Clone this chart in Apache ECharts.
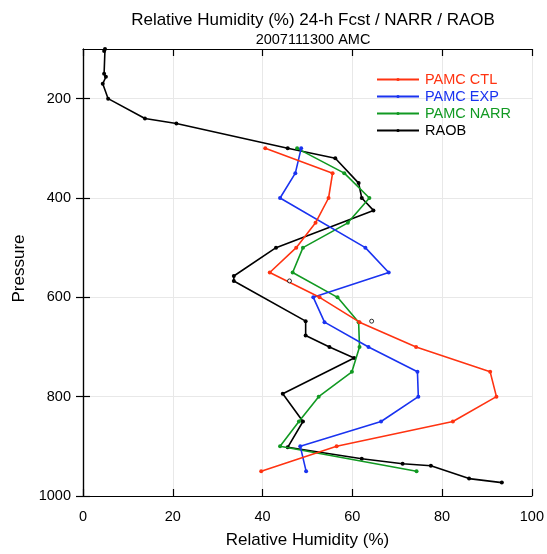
<!DOCTYPE html>
<html><head><meta charset="utf-8">
<script src="https://cdn.jsdelivr.net/npm/echarts@6/dist/echarts.min.js"></script>
<style>html,body{margin:0;padding:0;background:#fff}#c{width:547px;height:554px}</style>
</head><body><div id="c"></div>
<script>
// Data
const xTicks = [0, 20, 40, 60, 80, 100];
const yTicks = [200, 400, 600, 800, 1000];

const ctlP  = [300, 350, 400, 450, 500, 550, 600, 650, 700, 750, 800, 850, 900, 950];
const ctlRH = [40.6, 55.6, 54.7, 51.8, 47.5, 41.6, 52.7, 61.6, 74.2, 90.7, 92.1, 82.4, 56.5, 39.7];

const expP  = [300, 350, 400, 500, 550, 600, 650, 700, 750, 800, 850, 900, 950];
const expRH = [48.6, 47.3, 43.9, 62.9, 68.1, 51.3, 53.8, 63.6, 74.5, 74.7, 66.4, 48.4, 49.7];

const narrP  = [300, 350, 400, 450, 500, 550, 600, 650, 700, 750, 800, 850, 900, 950];
const narrRH = [47.7, 58.2, 63.8, 59.0, 49.0, 46.7, 56.7, 61.4, 61.6, 59.9, 52.5, 48.1, 43.9, 74.3];

const raobP  = [100, 104, 150, 156, 170, 200, 240, 250, 300, 320, 370, 400, 425, 500, 557, 567, 648, 677, 700, 722, 794, 850, 902, 925, 935, 939, 965, 973];
const raobRH = [4.9, 4.7, 4.7, 5.1, 4.4, 5.6, 13.8, 20.8, 45.6, 56.2, 61.4, 62.1, 64.7, 43.0, 33.6, 33.6, 49.6, 49.6, 54.9, 60.4, 44.5, 49.0, 45.6, 62.1, 71.2, 77.5, 86.0, 93.3];

const extraP  = [567, 648];
const extraRH = [46.0, 64.3];

const names = ['PAMC CTL', 'PAMC EXP', 'PAMC NARR', 'RAOB'];
const colors = ['#ff3311', '#1a33f0', '#119922', '#000000'];

function pairs(rh, p) { return rh.map((v, i) => [v, p[i]]); }

const chart = echarts.init(document.getElementById('c'));
const FONT = 'Liberation Sans, Arial, sans-serif';
const gridLine = { show: true, lineStyle: { color: '#e8e8e8', width: 1 } };

function mkLine(i, data) {
  return {
    name: names[i], type: 'line', data: data,
    symbol: 'circle', symbolSize: 4, showSymbol: true,
    lineStyle: { color: colors[i], width: 1.6 },
    itemStyle: { color: colors[i] },
    animation: false, z: 3 + (3 - i)
  };
}

chart.setOption({
  animation: false,
  textStyle: { fontFamily: FONT },
  title: [
    { text: 'Relative Humidity (%) 24-h Fcst / NARR / RAOB', left: 308, top: 7, textAlign: 'center',
      textStyle: { fontSize: 17, fontWeight: 'normal', color: '#000', fontFamily: FONT } },
    { text: '2007111300 AMC', left: 308, top: 27, textAlign: 'center',
      textStyle: { fontSize: 14.5, fontWeight: 'normal', color: '#000', fontFamily: FONT } }
  ],
  legend: {
    orient: 'vertical', left: 371, top: 67, itemWidth: 42, itemHeight: 4, itemGap: 2,
    textStyle: { fontSize: 14.5, fontFamily: FONT, padding: [0, 0, 0, 1] },
    data: names.map((n, i) => ({ name: n, textStyle: { color: colors[i] } }))
  },
  grid: { left: 83, right: 14, top: 49, bottom: 55, containLabel: false },
  xAxis: [
    { type: 'value', min: 0, max: 100, interval: 20, position: 'bottom',
      name: 'Relative Humidity (%)', nameLocation: 'middle', nameGap: 36,
      nameTextStyle: { fontSize: 17, color: '#000', fontFamily: FONT },
      axisLine: { show: true, lineStyle: { color: '#000', width: 1.2 } },
      axisTick: { show: true, inside: true, length: 7, lineStyle: { color: '#000', width: 1.2 } },
      axisLabel: { fontSize: 14.5, color: '#000', margin: 13, fontFamily: FONT },
      splitLine: gridLine },
    { type: 'value', min: 0, max: 100, interval: 20, position: 'top',
      axisLine: { show: true, lineStyle: { color: '#000', width: 1.2 } },
      axisTick: { show: true, inside: true, length: 7, lineStyle: { color: '#000', width: 1.2 } },
      axisLabel: { show: false }, splitLine: { show: false } }
  ],
  yAxis: [
    { type: 'value', min: 100, max: 1000, inverse: true, position: 'left',
      name: 'Pressure', nameLocation: 'middle', nameGap: 48, nameRotate: 90,
      nameTextStyle: { fontSize: 17, color: '#000', fontFamily: FONT, padding: [0, 0, 0, 8] },
      axisLine: { show: true, lineStyle: { color: '#000', width: 1.2 } },
      axisTick: { show: true, inside: true, length: 7, customValues: yTicks, lineStyle: { color: '#000', width: 1.2 } },
      axisLabel: { fontSize: 14.5, color: '#000', margin: 12, customValues: yTicks, fontFamily: FONT,
        formatter: v => String(v) },
      splitLine: gridLine },
    { type: 'value', min: 100, max: 1000, inverse: true, position: 'right',
      axisLine: { show: true, lineStyle: { color: '#000', width: 1.2 } },
      axisTick: { show: true, inside: true, length: 7, customValues: yTicks, lineStyle: { color: '#000', width: 1.2 } },
      axisLabel: { show: false }, splitLine: { show: false } }
  ],
  series: [
    mkLine(0, pairs(ctlRH, ctlP)),
    mkLine(1, pairs(expRH, expP)),
    mkLine(2, pairs(narrRH, narrP)),
    mkLine(3, pairs(raobRH, raobP)),
    { type: 'scatter', data: pairs(extraRH, extraP), symbol: 'circle', symbolSize: 4,
      itemStyle: { color: '#fff', borderColor: '#000', borderWidth: 1 }, z: 8 }
  ]
});
</script></body></html>
